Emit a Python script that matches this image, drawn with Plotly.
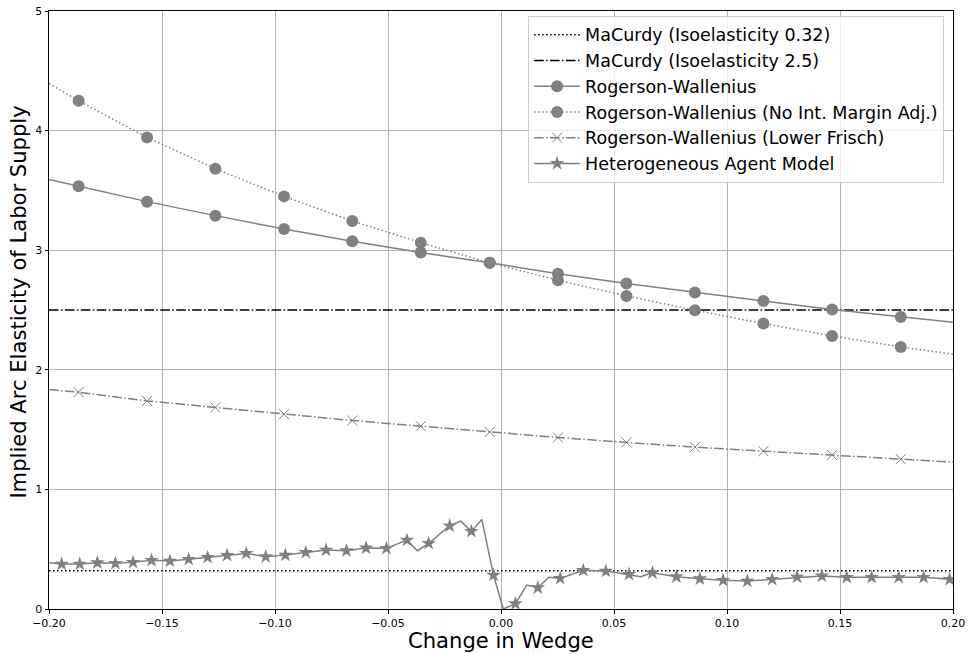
import plotly.graph_objects as go

# ---- data -------------------------------------------------------------
# Rogerson-Wallenius curves: marker positions and curve end points
RW_X = [-0.1869, -0.1566, -0.1264, -0.0960, -0.0658, -0.0355, -0.0050,
        0.0252, 0.0555, 0.0858, 0.1161, 0.1465, 0.1769]
RW_EDGE_X = [-0.20, 0.20]

RW_BASE = [3.534, 3.406, 3.289, 3.177, 3.074, 2.980, 2.895,
           2.804, 2.721, 2.646, 2.576, 2.504, 2.442]
RW_BASE_EDGE = [3.592, 2.398]

RW_NOINT = [4.249, 3.943, 3.681, 3.450, 3.244, 3.063, 2.895,
            2.749, 2.618, 2.498, 2.387, 2.283, 2.191]
RW_NOINT_EDGE = [4.392, 2.130]

RW_LOWFRISCH = [1.813, 1.740, 1.685, 1.629, 1.576, 1.529, 1.481,
                1.434, 1.393, 1.353, 1.320, 1.287, 1.253]
RW_LOWFRISCH_EDGE = [1.835, 1.228]

# Heterogeneous agent model: starred points
HA_STAR_X = [-0.1944, -0.1864, -0.1786, -0.1706, -0.1628, -0.1546, -0.1465,
             -0.1382, -0.1298, -0.1212, -0.1127, -0.1041, -0.0954, -0.0864,
             -0.0774, -0.0684, -0.0597, -0.0507, -0.0416, -0.0320, -0.0227,
             -0.0131, -0.0033, 0.0064, 0.0163, 0.0262, 0.0364, 0.0464,
             0.0566, 0.0670, 0.0776, 0.0880, 0.0983, 0.1090, 0.1200,
             0.1310, 0.1420, 0.1530, 0.1640, 0.1760, 0.1870, 0.1985]
HA_STAR_Y = [0.376, 0.376, 0.387, 0.382, 0.390, 0.407, 0.401,
             0.415, 0.432, 0.449, 0.465, 0.437, 0.451, 0.473,
             0.493, 0.487, 0.510, 0.507, 0.576, 0.549, 0.696,
             0.649, 0.284, 0.044, 0.178, 0.256, 0.323, 0.317,
             0.290, 0.303, 0.270, 0.253, 0.240, 0.234, 0.248,
             0.267, 0.276, 0.265, 0.265, 0.265, 0.265, 0.248]
# Heterogeneous agent model: intermediate (unstarred) points of the path
HA_MID_X = [-0.2000, -0.0370, -0.0178, -0.0085, 0.0010, 0.0114, 0.0212, 0.0618]
HA_MID_Y = [0.387, 0.487, 0.735, 0.749, 0.000, 0.200, 0.265, 0.270]

# MaCurdy isoelastic benchmarks
MACURDY_LOW = 0.32
MACURDY_HIGH = 2.5

X_RANGE = [-0.20, 0.20]
X_TICKS = [-0.20, -0.15, -0.10, -0.05, 0.00, 0.05, 0.10, 0.15, 0.20]
X_TICKTEXT = ["\u22120.20", "\u22120.15", "\u22120.10", "\u22120.05", "0.00",
              "0.05", "0.10", "0.15", "0.20"]
Y_TICKS = [0, 1, 2, 3, 4, 5]

# ---- styling ----------------------------------------------------------
FONT = "DejaVu Sans"
GREY = "#808080"
DOT = "1.5px,2.5px"
DASHDOT = "9.6px,2.4px,1.5px,2.4px"


def curve(edge_x, edge_y, xs, ys):
    pts = sorted(list(zip(edge_x, edge_y)) + list(zip(xs, ys)))
    return [p[0] for p in pts], [p[1] for p in pts]


fig = go.Figure()

# MaCurdy horizontal benchmarks
fig.add_trace(go.Scatter(x=X_RANGE, y=[MACURDY_LOW] * 2, mode="lines",
                         line=dict(color="black", width=1.5, dash=DOT),
                         name="MaCurdy (Isoelasticity 0.32)"))
fig.add_trace(go.Scatter(x=X_RANGE, y=[MACURDY_HIGH] * 2, mode="lines",
                         line=dict(color="black", width=1.5, dash=DASHDOT),
                         name="MaCurdy (Isoelasticity 2.5)"))


def marked_series(name, edge_y, ys, dash, symbol, msize, mline):
    cx, cy = curve(RW_EDGE_X, edge_y, RW_X, ys)
    fig.add_trace(go.Scatter(x=cx, y=cy, mode="lines", showlegend=False,
                             line=dict(color=GREY, width=1.5, dash=dash),
                             hoverinfo="skip"))
    fig.add_trace(go.Scatter(x=RW_X, y=ys, mode="markers", showlegend=False,
                             marker=dict(symbol=symbol, size=msize, color=GREY,
                                         line=mline)))
    fig.add_trace(go.Scatter(x=[None], y=[None], mode="lines+markers", name=name,
                             line=dict(color=GREY, width=1.5, dash=dash),
                             marker=dict(symbol=symbol, size=msize, color=GREY,
                                         line=mline)))


marked_series("Rogerson-Wallenius", RW_BASE_EDGE, RW_BASE, "solid",
              "circle", 12, dict(width=0))
marked_series("Rogerson-Wallenius (No Int. Margin Adj.)", RW_NOINT_EDGE, RW_NOINT,
              DOT, "circle", 12, dict(width=0))
marked_series("Rogerson-Wallenius (Lower Frisch)", RW_LOWFRISCH_EDGE, RW_LOWFRISCH,
              DASHDOT, "x-thin", 10, dict(width=1, color=GREY))

# Heterogeneous agent model path and stars
hx, hy = curve(HA_MID_X, HA_MID_Y, HA_STAR_X, HA_STAR_Y)
fig.add_trace(go.Scatter(x=hx, y=hy, mode="lines", showlegend=False,
                         line=dict(color=GREY, width=1.5), hoverinfo="skip"))
fig.add_trace(go.Scatter(x=HA_STAR_X, y=HA_STAR_Y, mode="markers", showlegend=False,
                         marker=dict(symbol="star", size=11, color=GREY,
                                     line=dict(width=0))))
fig.add_trace(go.Scatter(x=[None], y=[None], mode="lines+markers",
                         name="Heterogeneous Agent Model",
                         line=dict(color=GREY, width=1.5),
                         marker=dict(symbol="star", size=11, color=GREY,
                                     line=dict(width=0))))

axis_common = dict(showgrid=True, gridcolor="#b0b0b0", gridwidth=0.8,
                   zeroline=False, showline=True, linecolor="black",
                   linewidth=1, mirror=True, ticks="outside", ticklen=3.5,
                   tickwidth=1, tickcolor="black", automargin=False,
                   tickfont=dict(family=FONT, size=11, color="black"))

fig.update_xaxes(range=X_RANGE, tickvals=X_TICKS, ticktext=X_TICKTEXT,
                 **axis_common)
fig.update_yaxes(range=[0, 5], tickvals=Y_TICKS, **axis_common)

# axis titles (plot area spans x 49..953 px, y 11..609 px)
fig.add_annotation(text="Change in Wedge", xref="paper", yref="paper",
                   x=0.5, y=-0.0535, xanchor="center", yanchor="middle",
                   showarrow=False, font=dict(family=FONT, size=21.1, color="black"))
fig.add_annotation(text="Implied Arc Elasticity of Labor Supply",
                   xref="paper", yref="paper", x=-0.0332, y=0.514,
                   xanchor="center", yanchor="middle", textangle=-90,
                   showarrow=False, font=dict(family=FONT, size=21.1, color="black"))

fig.update_layout(
    width=969, height=654,
    margin=dict(l=49, r=16, t=11, b=45, autoexpand=False),
    paper_bgcolor="white", plot_bgcolor="white",
    font=dict(family=FONT, color="black"),
    showlegend=True,
    legend=dict(x=0.530, y=0.992, xanchor="left", yanchor="top",
                itemwidth=46,
                bgcolor="rgba(255,255,255,0.8)", bordercolor="#cccccc",
                borderwidth=1, font=dict(family=FONT, size=17.5, color="black")),
)

fig.write_html("out.html")
